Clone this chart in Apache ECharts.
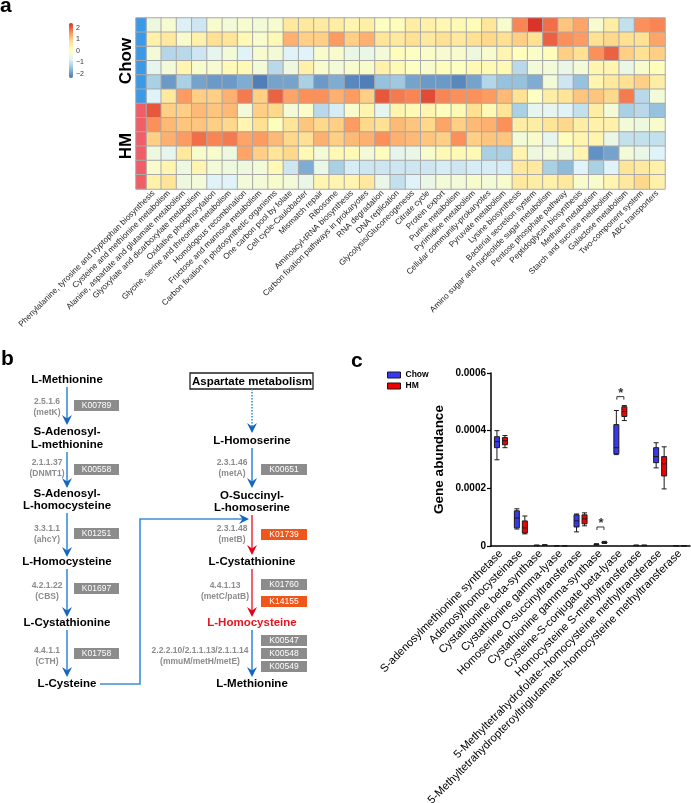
<!DOCTYPE html>
<html><head><meta charset="utf-8">
<script src="https://cdn.jsdelivr.net/npm/echarts@6/dist/echarts.min.js"></script>
<style>html,body{margin:0;padding:0;background:#fff}#c{width:691px;height:803px}</style>
</head><body><div id="c"></div>
<script>
const FONT = '"Liberation Sans", Arial, Helvetica, sans-serif';

// ---------- Panel a data ----------
const pathways = [
 'Phenylalanine, tyrosine and tryptophan biosynthesis','Cysteine and methionine metabolism',
 'Alanine, aspartate and glutamate metabolism','Glyoxylate and dicarboxylate metabolism',
 'Oxidative phosphorylation','Glycine, serine and threonine metabolism','Homologous recombination',
 'Fructose and mannose metabolism','Carbon fixation in photosynthetic organisms','One carbon pool by folate',
 'Cell cycle-Caulobacter','Mismatch repair','Ribosome','Aminoacyl-tRNA biosynthesis',
 'Carbon fixation pathways in prokaryotes','RNA degradation','DNA replication','Glycolysis/Gluconeogenesis',
 'Citrate cycle','Protein export','Purine metabolism','Pyrimidine metabolism','Cellular community-prokaryotes',
 'Pyruvate metabolism','Lysine biosynthesis','Bacterial secretion system','Amino sugar and nucleotide sugar metabolism',
 'Pentose phosphate pathway','Peptidoglycan biosynthesis','Methane metabolism','Starch and sucrose metabolism',
 'Galactose metabolism','Two-component system','ABC transporters'];
const samples = ['Chow1','Chow2','Chow3','Chow4','Chow5','Chow6','HM1','HM2','HM3','HM4','HM5','HM6'];
const sampleGroup = [0,0,0,0,0,0,1,1,1,1,1,1];
const groupNames = ['Chow','HM'];
const chow1 = [-0.4,-0.2,-0.8,-0.95,-0.15,-0.3,-0.2,-0.3,-0.2,0.6,0.6,0.55,0.5,0.3,0.45,0.0,0.1,0.5,0.4,0.25,0.2,0.15,0.65,-0.15,1.7,2.4,1.9,1.1,1.4,-0.2,0.5,-1.05,1.6,1.7];
const chow2 = [0.4,0.6,-0.15,0.4,0.8,0.7,0.2,-0.15,0.2,1.3,1.0,1.0,1.5,1.0,1.3,0.7,0.6,0.8,0.6,0.8,0.6,0.8,0.9,0.8,1.0,0.8,2.0,1.6,1.5,0.8,0.9,0.8,0.8,1.4];
const chow3 = [-0.3,-1.2,-1.15,-0.95,-0.6,-0.3,-0.75,-0.2,-0.3,-0.75,-0.75,-0.15,-0.15,-0.5,-0.5,-0.3,0.1,0.0,-0.1,-0.2,-0.15,-0.4,-0.15,0.3,0.05,-0.1,0.1,1.0,0.8,1.6,2.0,1.0,0.8,1.0];
const chow4 = [-0.6,-0.3,0.3,-0.15,-0.2,0.2,0.2,-0.3,-1.15,-0.4,0.4,-0.15,-0.3,-0.15,-0.15,0.4,0.2,0.0,-0.15,0.1,0.0,0.2,0.2,0.2,-1.15,-0.3,-0.3,-0.5,-0.3,0.3,0.3,-0.5,-0.15,0.1];
const chow5 = [-1.3,-1.95,-1.3,-1.85,-1.95,-1.95,-1.75,-2.25,-1.85,-1.85,-1.3,-1.95,-1.75,-2.15,-2.25,-1.5,-1.4,-1.85,-1.95,-1.95,-2.15,-1.85,-1.2,-1.5,-1.5,-1.75,-0.3,-0.95,-1.5,0.3,0.6,0.8,1.0,0.5];
const chow6 = [-0.75,0.6,1.5,1.0,1.0,1.3,1.8,1.0,2.0,1.4,1.6,1.6,1.3,1.5,1.0,2.1,1.8,1.7,2.2,1.7,1.6,1.6,1.5,1.2,0.8,0.0,0.5,0.7,1.1,1.1,0.9,1.8,-1.15,-0.3];
const hm1 = [2.1,1.0,1.0,1.2,1.1,1.2,-0.3,1.0,0.9,-0.3,-0.1,-1.15,-0.85,-0.15,0.3,-0.6,0.3,0.2,0.3,0.1,0.2,0.8,0.2,0.7,-1.3,-0.6,-0.6,-0.75,-1.05,0.5,-0.3,-1.3,-1.15,-1.5];
const hm2 = [1.6,1.2,1.1,1.1,1.0,0.9,0.3,0.8,0.1,0.7,1.1,0.9,1.0,1.5,0.9,0.8,1.2,1.1,0.9,1.4,1.0,1.2,1.3,1.6,0.5,0.5,0.7,0.9,0.5,0.4,0.4,-0.3,-0.4,-0.15];
const hm3 = [1.0,1.3,1.5,1.9,1.7,1.8,1.4,1.5,1.2,0.9,0.8,1.3,1.0,1.2,1.3,1.6,1.3,1.2,1.1,1.0,1.6,1.0,1.1,1.1,-0.3,-0.15,-0.6,0.1,0.3,0.3,-0.5,-1.05,-1.05,-1.05];
const hm4 = [-0.4,-0.6,0.6,-0.15,-0.15,-0.4,1.4,1.0,0.7,0.9,0.2,-0.3,0.2,0.2,-0.3,0.1,-0.6,-0.5,-0.15,0.2,0.2,0.2,-1.3,-1.3,0.3,-0.4,-0.3,-0.4,0.3,-2.05,-1.85,-0.3,-0.5,-0.75];
const hm5 = [-0.15,0.3,-0.4,0.3,-0.3,-0.4,-0.4,-0.3,0.2,-0.95,-1.75,-0.5,-1.3,-0.85,-0.95,-0.95,-0.95,-0.95,-0.95,-0.85,-0.95,-0.85,-0.85,-0.85,0.6,0.6,-1.3,-1.6,-0.75,-1.3,-0.75,0.7,0.6,0.4];
const hm6 = [0.4,0.7,-0.4,-0.3,-0.75,-0.75,-0.3,-0.3,-0.15,-0.3,-0.5,0.3,0.3,0.3,0.6,-0.5,-1.05,-0.75,-0.5,-0.3,-0.3,-0.15,-0.3,-0.15,0.6,0.5,0.4,0.6,-0.15,-0.15,0.3,0.6,0.9,0.4];
const scaleTicks = [-2,-1,0,1,2];
const scaleMin = -2.35, scaleMax = 2.43;

// ---------- Panel c data ----------
const enzymes = ['S-adenosylmethionine synthetase','Adenosylhomocysteinase','Cystathionine beta-synthase',
 'Cystathionine gamma-lyase','Homoserine O-succinyltransferase','Cystathionine gamma-synthase',
 'Cysteine-S-conjugate beta-lyase','Homocysteine S-methyltransferase',
 '5-Methyltetrahydrofolate--homocysteine methyltransferase',
 '5-Methyltetrahydropteroyltriglutamate--homocysteine methyltransferase'];
// [min, Q1, median, Q3, max]
const chowBox = [
 [0.000299,0.000341,0.000362,0.000379,0.000400],
 [0.000059,0.000063,0.000097,0.000122,0.000129],
 [0.0000010,0.0000015,0.0000020,0.0000025,0.0000030],
 [0.0000005,0.0000008,0.0000010,0.0000012,0.0000015],
 [0.000049,0.000066,0.000087,0.000108,0.000111],
 [0.0000030,0.0000040,0.0000050,0.0000060,0.0000080],
 [0.000317,0.000320,0.000341,0.000421,0.000470],
 [0.0000010,0.0000015,0.0000020,0.0000025,0.0000030],
 [0.000271,0.000289,0.000310,0.000341,0.000358],
 [0.0000005,0.0000008,0.0000010,0.0000012,0.0000015]];
const hmBox = [
 [0.000341,0.000351,0.000365,0.000376,0.000383],
 [0.000042,0.000045,0.000063,0.000087,0.000104],
 [0.0000020,0.0000025,0.0000030,0.0000035,0.0000040],
 [0.0000005,0.0000008,0.0000010,0.0000012,0.0000015],
 [0.000070,0.000077,0.000094,0.000108,0.000115],
 [0.0000090,0.0000100,0.0000120,0.0000140,0.0000160],
 [0.000435,0.000449,0.000466,0.000483,0.000487],
 [0.0000010,0.0000015,0.0000020,0.0000025,0.0000030],
 [0.000198,0.000243,0.000285,0.000310,0.000344],
 [0.0000005,0.0000008,0.0000010,0.0000012,0.0000015]];
const sigMarks = [[5,0.000066],[6,0.000518]];

// ---------- Panel b text ----------
const leftCompounds = [['L-Methionine'],['S-Adenosyl-','L-methionine'],['S-Adenosyl-','L-homocysteine'],['L-Homocysteine'],['L-Cystathionine'],['L-Cysteine']];
const leftEnzymes = [['2.5.1.6','(metK)'],['2.1.1.37','(DNMT1)'],['3.3.1.1','(ahcY)'],['4.2.1.22','(CBS)'],['4.4.1.1','(CTH)']];
const leftKO = ['K00789','K00558','K01251','K01697','K01758'];
const rightCompounds = [['L-Homoserine'],['O-Succinyl-','L-homoserine'],['L-Cystathionine'],['L-Homocysteine'],['L-Methionine']];
const rightEnzymes = [['2.3.1.46','(metA)'],['2.3.1.48','(metB)'],['4.4.1.13','(metC/patB)'],['2.2.2.10/2.1.1.13/2.1.1.14','(mmuM/metH/metE)']];
const rightKO = [[['K00651',0]],[['K01739',1]],[['K01760',0],['K14155',1]],[['K00547',0],['K00548',0],['K00549',0]]];

// ---------- build ----------
const zRows = [chow1,chow2,chow3,chow4,chow5,chow6,hm1,hm2,hm3,hm4,hm5,hm6];
const heatData = [];
zRows.forEach((row,r)=>row.forEach((v,c)=>heatData.push([c,r,v])));
const groupData = sampleGroup.map((g,r)=>[0,r,g]);
const CHOW_C = '#3838F2', HM_C = '#F20000';

const G = [];
const BLUE='#3C8FD6', BLUE_H='#1466BE', RED='#EE3B45', RED_H='#E3001B', GREY='#8C8C8C', ORANGE='#F0561A';
function text(x,y,s,o){
  o=o||{};
  G.push({type:'text', x, y, rotation:o.rot||0, z:10, style:{text:s, fill:o.color||'#000', fontSize:o.size||11.5, fontWeight:o.weight||'bold', fontFamily:FONT, textAlign:o.align||'center', textVerticalAlign:o.valign||'middle'}});
}
function vArrow(x,y1,y2,col,head,dashed){
  G.push({type:'line', shape:{x1:x,y1:y1,x2:x,y2:y2-5}, style:{stroke:col, lineWidth:1.6, lineDash:dashed?[1.5,1.5]:null}});
  G.push({type:'polygon', shape:{points:[[x,y2],[x-5,y2-10],[x,y2-6.5],[x+5,y2-10]]}, style:{fill:head}});
}
function koBox(x,y,w,label,kind){
  G.push({type:'rect', shape:{x,y,width:w,height:11}, style:{fill:kind?ORANGE:GREY}});
  text(x+w/2,y+6,label,{color:'#fff',size:8.5,weight:'normal'});
}
// letters
text(0,6,'a',{size:21,align:'left'});
text(1,359,'b',{size:21,align:'left'});
text(351,361,'c',{size:21,align:'left'});
text(126,61,'Chow',{size:17,rot:Math.PI/2});
text(126,146,'HM',{size:17,rot:Math.PI/2});

// panel b left column
const LX=67, RX=252;
const lNameY=[[380],[432,445],[494,506],[562],[623],[684]];
leftCompounds.forEach((lines,i)=>lines.forEach((s,j)=>text(LX,lNameY[i][j],s)));
const lArr=[[387,425],[452,488],[513,557],[569,617],[630,677]];
lArr.forEach(a=>vArrow(LX,a[0],a[1],BLUE,BLUE_H));
const lEnzY=[[402,413],[463,474],[529,540],[586,597],[651,662]];
leftEnzymes.forEach((e,i)=>{text(47,lEnzY[i][0],e[0],{size:8.5,color:GREY});text(47,lEnzY[i][1],e[1],{size:8.5,color:GREY});});
const lKoY=[400,464,528,583,648];
leftKO.forEach((k,i)=>koBox(74,lKoY[i],45,k,0));
// right column
G.push({type:'rect', shape:{x:190,y:373,width:123,height:16}, style:{fill:'#fff',stroke:'#222',lineWidth:1.3}});
text(RX,381.5,'Aspartate metabolism');
vArrow(RX,389,433,BLUE,BLUE_H,true);
const rNameY=[[441],[496,508],[562],[623],[684]];
rightCompounds.forEach((lines,i)=>lines.forEach((s,j)=>text(RX,rNameY[i][j],s,{color:i===3?'#E8141E':'#000'})));
vArrow(RX,448,488,BLUE,BLUE_H);
vArrow(RX,515,555,RED,RED_H);
vArrow(RX,569,617,RED,RED_H);
vArrow(RX,630,677,BLUE,BLUE_H);
const rEnzPos=[[232,463,474],[232,529,540],[225,586,597],[200,651,662]];
rightEnzymes.forEach((e,i)=>{const p=rEnzPos[i];text(p[0],p[1],e[0],{size:8.5,color:GREY});text(p[0],p[2],e[1],{size:8.5,color:GREY});});
const rKoY=[[464],[529],[579,596],[635,648,661]];
rightKO.forEach((grp,i)=>grp.forEach((k,j)=>koBox(261,rKoY[i][j],46,k[0],k[1])));
// connector L-Cysteine -> O-Succinyl-L-homoserine
G.push({type:'polyline', shape:{points:[[100,684],[140,684],[140,519],[243,519]]}, style:{stroke:BLUE,lineWidth:1.6,fill:null}});
G.push({type:'polygon', shape:{points:[[249,519],[239,514],[242.5,519],[239,524]]}, style:{fill:BLUE_H}});

const chart = echarts.init(document.getElementById('c'), null, {renderer:'canvas'});
const fmtScale = v => v<0 ? '\u2212'+Math.abs(v) : String(v);
chart.setOption({
  animation:false,
  textStyle:{fontFamily:FONT},
  grid:[
    {left:146, top:18, width:519, height:171, outerBoundsMode:'none', containLabel:false},
    {left:136, top:18, width:10, height:171, outerBoundsMode:'none', containLabel:false},
    {left:69, top:23, width:4, height:55, outerBoundsMode:'none', containLabel:false},
    {left:491, top:373, width:199, height:173, outerBoundsMode:'none', containLabel:false}
  ],
  xAxis:[
    {gridIndex:0, type:'category', data:pathways, axisLine:{show:false}, axisTick:{show:false}, splitArea:{show:false},
     axisLabel:{rotate:45, interval:0, fontSize:8.2, color:'#222', margin:3, fontFamily:FONT}},
    {gridIndex:1, type:'category', data:['group'], show:false},
    {gridIndex:2, type:'category', data:['scale'], show:false},
    {gridIndex:3, type:'category', data:enzymes,
     axisLine:{lineStyle:{color:'#000', width:1.5}},
     axisTick:{alignWithLabel:true, length:5, lineStyle:{color:'#000', width:1.2}},
     axisLabel:{rotate:45, interval:0, fontSize:11.2, color:'#000', margin:6, fontFamily:FONT}}
  ],
  yAxis:[
    {gridIndex:0, type:'category', data:samples, inverse:true, show:false},
    {gridIndex:1, type:'category', data:samples, inverse:true, show:false},
    {gridIndex:2, type:'value', min:scaleMin, max:scaleMax, position:'right',
     axisLine:{show:false}, axisTick:{show:false}, splitLine:{show:false},
     axisLabel:{customValues:scaleTicks, fontSize:7, color:'#333', margin:3, formatter:fmtScale}},
    {gridIndex:3, type:'value', min:0, max:0.0006, interval:0.0002,
     name:'Gene abundance', nameLocation:'middle', nameGap:45,
     nameTextStyle:{fontSize:13.5, fontWeight:'bold', color:'#000', fontFamily:FONT},
     axisLine:{show:true, lineStyle:{color:'#000', width:1.5}},
     axisTick:{show:true, length:4, lineStyle:{color:'#000', width:1.2}},
     splitLine:{show:false},
     axisLabel:{fontSize:10, fontWeight:'bold', color:'#000', margin:5, fontFamily:FONT,
       formatter:v => Math.abs(v)<1e-12 ? '0' : v.toFixed(4)}}
  ],
  visualMap:[
    {type:'continuous', seriesIndex:0, min:scaleMin, max:scaleMax, calculable:false, show:true,
     left:69, top:23, itemWidth:4, itemHeight:55, padding:0, text:null, hoverLink:false,
     inRange:{color:['#4575B4','#91BFDB','#E0F3F8','#FFFFBF','#FEE090','#FC8D59','#D73027']}},
    {type:'piecewise', seriesIndex:1, show:false, dimension:2,
     pieces:[{value:0, color:'#3B9AE8'},{value:1, color:'#F05D67'}]}
  ],
  legend:{data:[{name:groupNames[0], itemStyle:{color:CHOW_C}},{name:groupNames[1], itemStyle:{color:HM_C}}],
    orient:'vertical', left:387, top:370, itemWidth:13, itemHeight:6, itemGap:1,
    padding:0, selectedMode:false, icon:'rect',
    textStyle:{fontSize:8.5, fontWeight:'bold', color:'#000', lineHeight:10, fontFamily:FONT},
    itemStyle:{borderColor:'#1a1a1a', borderWidth:1}},
  graphic:G,
  series:[
    {type:'heatmap', name:'heat', xAxisIndex:0, yAxisIndex:0, data:heatData,
     itemStyle:{borderColor:'#a9a9a9', borderWidth:1}, emphasis:{disabled:true}},
    {type:'heatmap', name:'group', xAxisIndex:1, yAxisIndex:1, data:groupData,
     itemStyle:{borderColor:'#a9a9a9', borderWidth:1}, emphasis:{disabled:true}},
    {type:'boxplot', name:groupNames[0], xAxisIndex:3, yAxisIndex:3, data:chowBox, boxWidth:[5,5],
     itemStyle:{color:CHOW_C, borderColor:'#1a1a1a', borderWidth:1}},
    {type:'boxplot', name:groupNames[1], xAxisIndex:3, yAxisIndex:3, data:hmBox, boxWidth:[5,5],
     itemStyle:{color:HM_C, borderColor:'#1a1a1a', borderWidth:1}},
    {type:'custom', name:'sig', xAxisIndex:3, yAxisIndex:3, data:sigMarks,
     renderItem:(params, api)=>{
       const p = api.coord([api.value(0), api.value(1)]);
       const hw = 3.5;
       return {type:'group', children:[
         {type:'polyline', shape:{points:[[p[0]-hw,p[1]+3],[p[0]-hw,p[1]],[p[0]+hw,p[1]],[p[0]+hw,p[1]+3]]},
          style:{stroke:'#333', lineWidth:1, fill:null}},
         {type:'text', x:p[0]+0.5, y:p[1]+3, style:{text:'*', textAlign:'center', textVerticalAlign:'bottom',
          fontSize:13, fontWeight:'bold', fontFamily:FONT, fill:'#333'}}
       ]};
     }}
  ]
});
</script></body></html>
